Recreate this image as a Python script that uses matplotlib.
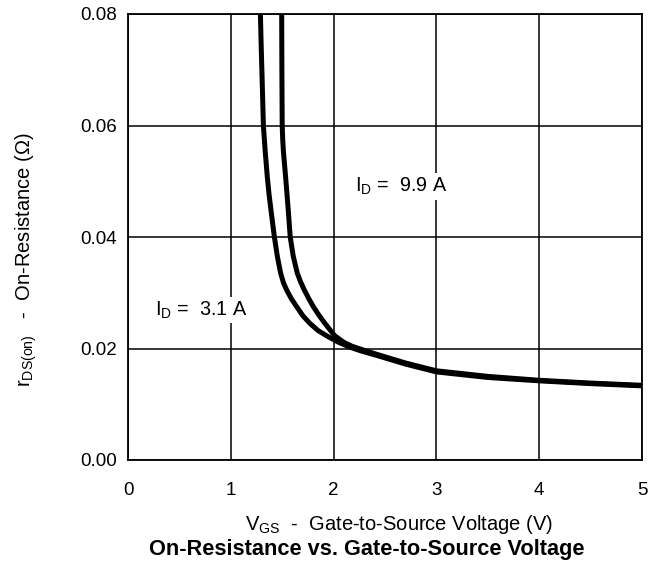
import matplotlib
matplotlib.use("Agg")
import matplotlib.pyplot as plt

plt.rcParams['font.family'] = ['Liberation Sans', 'DejaVu Sans']
plt.rcParams['mathtext.fontset'] = 'custom'
plt.rcParams['mathtext.rm'] = 'Liberation Sans'
plt.rcParams['mathtext.it'] = 'Liberation Sans'

# Кривые сопротивления канала
vgs_31 = [1.288, 1.296, 1.304, 1.317, 1.335, 1.355, 1.373, 1.391, 1.408, 1.424, 1.453, 1.485, 1.512, 1.543,
          1.59, 1.641, 1.70, 1.77, 1.85, 1.949, 2.05, 2.15, 2.26, 2.43, 2.7, 3.0, 3.5, 4.0, 4.5, 5.0]
rds_31 = [0.080, 0.074, 0.0688, 0.060, 0.0553, 0.0508, 0.0475, 0.0448, 0.0423, 0.040, 0.0365, 0.0335, 0.0318, 0.0305,
          0.0289, 0.0275, 0.0259, 0.0245, 0.0232, 0.0221, 0.0211, 0.0203, 0.0196, 0.0187, 0.0172, 0.0158, 0.0148,
          0.0142, 0.0137, 0.0133]

vgs_99 = [1.495, 1.497, 1.50, 1.505, 1.512, 1.533, 1.547, 1.559, 1.578, 1.608, 1.647, 1.68, 1.715, 1.76, 1.803,
          1.86, 1.916, 2.01, 2.1, 2.18, 2.26, 2.43, 2.7, 3.0, 3.5, 4.0, 4.5, 5.0]
rds_99 = [0.080, 0.070, 0.060, 0.0575, 0.0553, 0.0508, 0.0476, 0.0448, 0.040, 0.0365, 0.0335, 0.0319, 0.0305, 0.0289,
          0.0275, 0.0259, 0.0245, 0.0223, 0.0211, 0.0204, 0.0199, 0.0189, 0.0174, 0.0160, 0.0150, 0.0143, 0.0138,
          0.0134]

x_ticks = [0, 1, 2, 3, 4, 5]
y_ticks = [0.00, 0.02, 0.04, 0.06, 0.08]

fig = plt.figure(figsize=(6.57, 5.68), dpi=100)
ax = fig.add_axes([128 / 657, 1 - 460 / 568, 514 / 657, 446 / 568])

ax.plot(vgs_31, rds_31, color='black', linewidth=3.6, solid_joinstyle='round', zorder=3)
ax.plot(vgs_99, rds_99, color='black', linewidth=3.6, solid_joinstyle='round', zorder=3)

ax.set_xlim(0, 5)
ax.set_ylim(0, 0.08)
ax.set_xticks(x_ticks)
ax.set_yticks(y_ticks)
ax.set_yticklabels([f"{v:.2f}" for v in y_ticks])
ax.tick_params(length=0, labelsize=13.5, pad=8)
ax.tick_params(axis='x', pad=16)
ax.grid(True, color='black', linewidth=1.1)
for s in ax.spines.values():
    s.set_linewidth(1.3)

# подписи токов стока на белом фоне, чтобы прервать линии сетки
box = dict(facecolor='white', edgecolor='none', pad=2)
ax.text(0.26, 0.0269, r"$\mathrm{I_D}$ =  3.1 A", fontsize=14.2, va='center', ha='left', bbox=box, zorder=2)
ax.text(2.21, 0.049, r"$\mathrm{I_D}$ =  9.9 A", fontsize=14.2, va='center', ha='left', bbox=box, zorder=2)

fig.text(399 / 657, 1 - 524 / 568, r"$\mathrm{V_{GS}}$  -  Gate-to-Source Voltage (V)",
         fontsize=14.5, ha='center', va='center')
fig.text(367 / 657, 1 - 550 / 568, "On-Resistance vs. Gate-to-Source Voltage",
         fontsize=15.7, fontweight='bold', ha='center', va='center')
fig.text(26 / 657, 1 - 260 / 568, r"$\mathrm{r_{DS(on)}}$   -  On-Resistance ($\Omega$)",
         fontsize=14.5, rotation=90, ha='center', va='center')

fig.savefig("out.png", dpi=100)
